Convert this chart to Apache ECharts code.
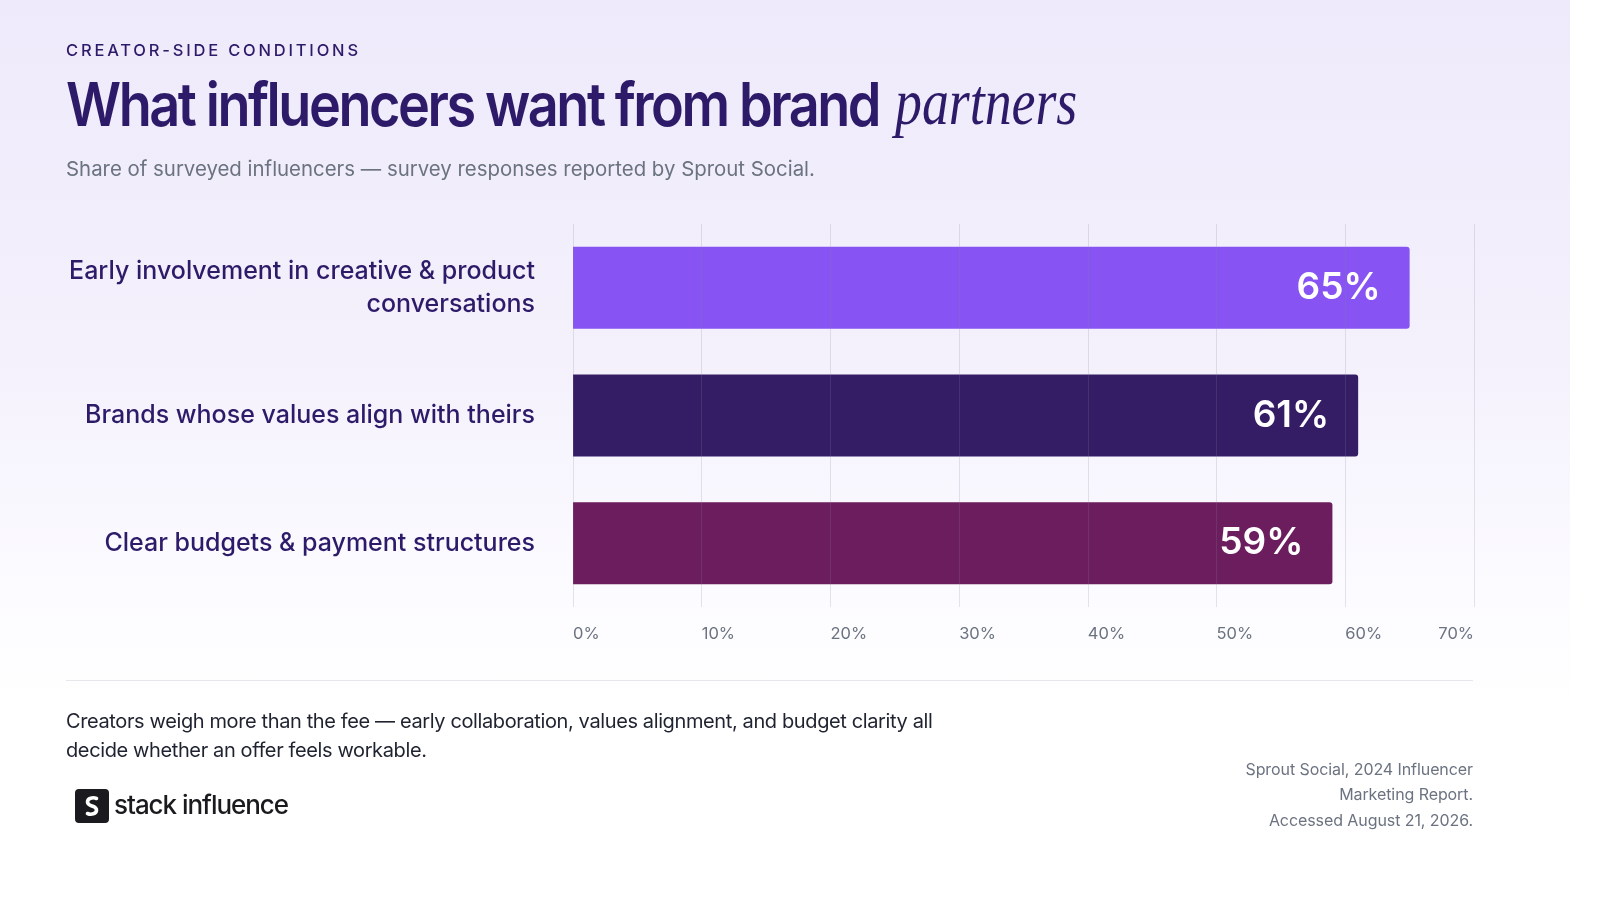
<!DOCTYPE html>
<html>
<head>
<meta charset="utf-8">
<script src="https://cdn.jsdelivr.net/npm/echarts@6/dist/echarts.min.js"></script>
<style>
  html, body { margin: 0; padding: 0; width: 1610px; height: 912px; overflow: hidden; background: #ffffff; font-family: Inter, "Noto Sans", sans-serif; }
  #panel { position: absolute; left: 0; top: 0; width: 1570px; height: 912px;
    background: linear-gradient(180deg, #eeeafb 0%, #f4f1fc 40%, #fbfaff 62%, #ffffff 78%); }
  #chart { position: absolute; left: 0; top: 0; width: 1610px; height: 912px; }
  .txt { position: absolute; white-space: nowrap; }
  #kicker { left: 66px; top: 39px; font-size: 16.5px; font-weight: 500; letter-spacing: 0.17em; color: #2d1b69; line-height: 22px; }
  #title { left: 66px; top: 66px; font-size: 60px; font-weight: 600; letter-spacing: -0.045em; color: #2d1b69; line-height: 76px; transform: scaleX(0.9); transform-origin: 0 0; }
  #titleEm { left: 895px; top: 64px; font-family: "Liberation Serif", "DejaVu Serif", serif; font-style: italic; font-weight: 400; font-size: 66px; color: #2d1b69; line-height: 76px; transform: scaleX(0.815); transform-origin: 0 0; }
  #subtitle { left: 66px; top: 155px; font-size: 20.4px; color: #6b7280; line-height: 28px; }
  #divider { position: absolute; left: 66px; top: 680px; width: 1407px; height: 1px; background: #e6e7eb; }
  #note { left: 66px; top: 707px; font-size: 20px; color: #1f2330; line-height: 29px; letter-spacing: -0.019em; }
  #source { right: 137px; top: 757px; font-size: 16px; color: #6b7280; line-height: 25.3px; text-align: right; letter-spacing: -0.005em; }
  #logo { position: absolute; left: 75px; top: 789px; width: 34px; height: 34px; border-radius: 4px; background: #1b1b1f; }
  #logoText { left: 114px; top: 788px; font-size: 26px; font-weight: 500; color: #1b1b1f; letter-spacing: -0.04em; line-height: 34px; }
</style>
</head>
<body>
<div id="panel"></div>
<div id="chart"></div>
<div class="txt" id="kicker">CREATOR-SIDE CONDITIONS</div>
<div class="txt" id="title">What influencers want from brand</div>
<div class="txt" id="titleEm">partners</div>
<div class="txt" id="subtitle">Share of surveyed influencers — survey responses reported by Sprout Social.</div>
<div id="divider"></div>
<div class="txt" id="note">Creators weigh more than the fee — early collaboration, values alignment, and budget clarity all<br>decide whether an offer feels workable.</div>
<div id="logo">
  <svg width="34" height="34" viewBox="0 0 34 34">
    <path d="M21.5 9.5 C18 8 12.5 9 12.5 13 C12.5 15.5 15 16.3 17 17 M12.5 24.5 C16 26 21.5 25 21.5 21 C21.5 18.5 19 17.7 17 17" fill="none" stroke="#ffffff" stroke-width="3.6" stroke-linecap="round"/>
  </svg>
</div>
<div class="txt" id="logoText">stack influence</div>
<div class="txt" id="source">Sprout Social, 2024 Influencer<br>Marketing Report.<br>Accessed August 21, 2026.</div>
<script>
const categories = [
  'Early involvement in creative & product conversations',
  'Brands whose values align with theirs',
  'Clear budgets & payment structures'
];
const values = [65, 61, 59];
const axisMin = 0;
const axisMax = 70;
const axisStep = 10;
const barColors = ['#8753f2', '#351d66', '#6b1d5e'];

const labelFont = '500 25px Inter';
const labelMaxWidth = 480;
const measureCtx = document.createElement('canvas').getContext('2d');
function wrapLabel(text) {
  measureCtx.font = labelFont;
  const words = text.split(' ');
  const lines = [];
  let line = '';
  words.forEach(w => {
    const trial = line ? line + ' ' + w : w;
    if (line && measureCtx.measureText(trial).width > labelMaxWidth) {
      lines.push(line);
      line = w;
    } else {
      line = trial;
    }
  });
  if (line) lines.push(line);
  return lines.join('\n');
}

const chart = echarts.init(document.getElementById('chart'), null, { renderer: 'canvas' });
chart.setOption({
  backgroundColor: 'transparent',
  animation: false,
  grid: { left: 573, right: 136, top: 224, bottom: 305, containLabel: false },
  xAxis: {
    type: 'value',
    min: axisMin, max: axisMax, interval: axisStep,
    z: 5,
    axisLine: { show: false },
    axisTick: { show: false },
    splitLine: { show: true, lineStyle: { color: 'rgba(136,130,160,0.21)', width: 1 } },
    axisLabel: {
      formatter: '{value}%',
      color: '#6b7280', fontSize: 16.5, fontFamily: 'Inter',
      margin: 19, align: 'left', alignMaxLabel: 'right'
    }
  },
  yAxis: {
    type: 'category',
    data: categories,
    inverse: true,
    axisLine: { show: false },
    axisTick: { show: false },
    splitLine: { show: false },
    axisLabel: {
      color: '#2d1b69', fontSize: 25, fontWeight: 500, fontFamily: 'Inter',
      lineHeight: 33, margin: 38, align: 'right',
      formatter: wrapLabel
    }
  },
  series: [{
    type: 'bar',
    data: values.map((v, i) => ({ value: v, itemStyle: { color: barColors[i] } })),
    barWidth: 82,
    itemStyle: { borderRadius: [0, 3, 3, 0] },
    label: {
      show: true, position: 'insideRight', distance: 29,
      formatter: '{c}%', color: '#ffffff', fontSize: 37, fontWeight: 600, fontFamily: 'Inter'
    }
  }]
});
</script>
</body>
</html>
